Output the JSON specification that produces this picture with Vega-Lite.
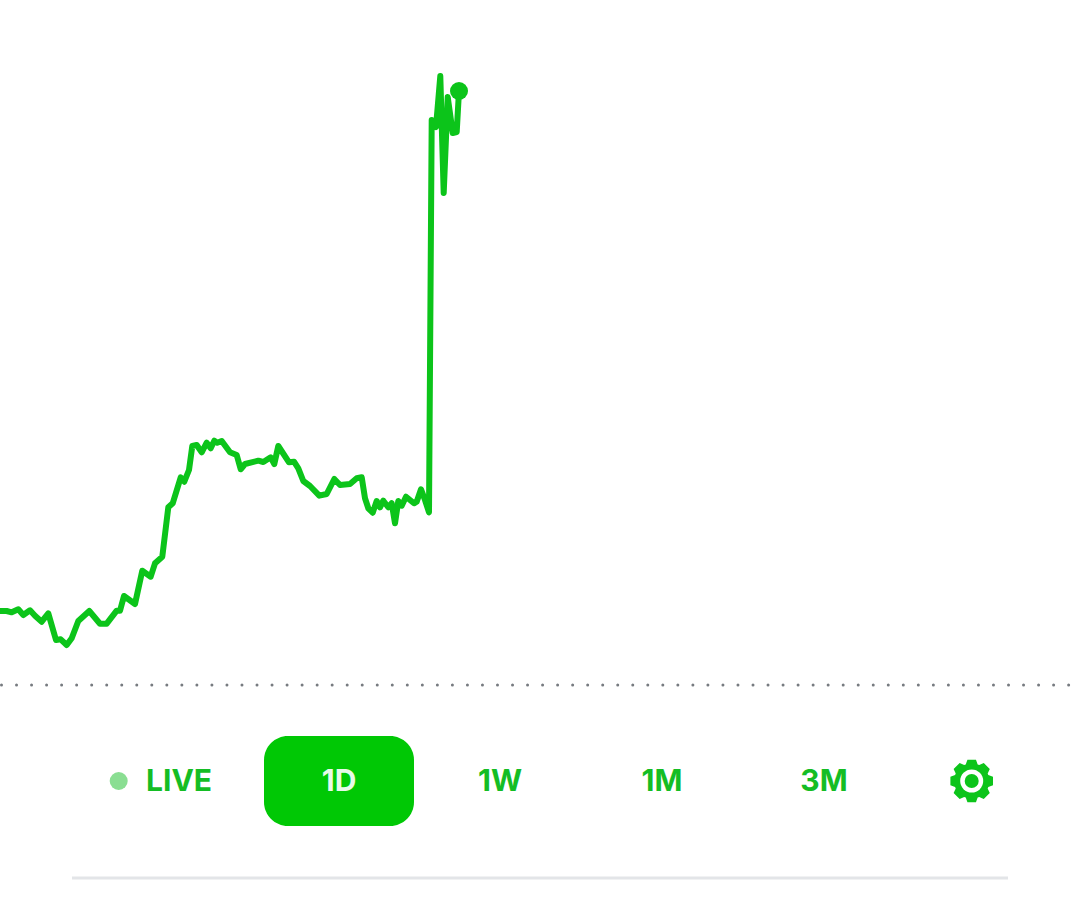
{
  "$schema": "https://vega.github.io/schema/vega-lite/v6.json",
  "width": 1080,
  "height": 897,
  "autosize": {"type": "fit", "contains": "padding"},
  "padding": 0,
  "background": "white",
  "config": {"view": {"stroke": null}},
  "datasets": {
    "price": [
      {"x":0,"y":611},{"x":6.7,"y":611},{"x":11.7,"y":612.3},{"x":18.3,"y":609.3},{"x":23.3,"y":615},{"x":30,"y":610.3},{"x":35,"y":615.7},{"x":41.7,"y":621.7},{"x":48.3,"y":613.3},{"x":56,"y":640},{"x":60.7,"y":639.3},{"x":66.7,"y":645},{"x":71.7,"y":638.3},{"x":78.3,"y":621},{"x":89.3,"y":611},{"x":100,"y":623.7},{"x":106.7,"y":623.7},{"x":116.7,"y":610.7},{"x":120,"y":610.7},{"x":124,"y":596},{"x":135,"y":604},{"x":142.3,"y":570.7},{"x":150.7,"y":576.7},{"x":155,"y":563.3},{"x":162.3,"y":556.7},{"x":168.3,"y":507.3},{"x":172.7,"y":503.3},{"x":180.7,"y":477.3},{"x":184.3,"y":481.7},{"x":189,"y":470},{"x":192.3,"y":446},{"x":196.7,"y":445},{"x":201.7,"y":452.3},{"x":206.7,"y":442.7},{"x":210.7,"y":448.3},{"x":214.3,"y":440.7},{"x":217.3,"y":442.7},{"x":221.7,"y":441},{"x":230,"y":452.3},{"x":236.7,"y":455},{"x":240.7,"y":469.3},{"x":245,"y":464},{"x":258.3,"y":460.7},{"x":263.3,"y":462},{"x":270.7,"y":457.3},{"x":274.3,"y":464},{"x":278.3,"y":446},{"x":289,"y":462.3},{"x":294,"y":461.7},{"x":298.3,"y":468.3},{"x":303.3,"y":481},{"x":310,"y":486},{"x":319.3,"y":495.7},{"x":326.7,"y":494},{"x":334.3,"y":479},{"x":340,"y":485},{"x":350,"y":484},{"x":356.7,"y":478.3},{"x":361.7,"y":477.3},{"x":365,"y":498.3},{"x":368.3,"y":508.3},{"x":372.7,"y":512.7},{"x":376.7,"y":501},{"x":380,"y":507.3},{"x":383.3,"y":500.7},{"x":388.3,"y":507.3},{"x":391.7,"y":503.3},{"x":395,"y":523.3},{"x":398.3,"y":501},{"x":401.7,"y":505.7},{"x":406,"y":496.7},{"x":414,"y":503.3},{"x":416.7,"y":501.7},{"x":421,"y":489.3},{"x":425,"y":500},{"x":429,"y":512.3},{"x":431.7,"y":120},{"x":436,"y":127},{"x":440.3,"y":76},{"x":443.7,"y":193},{"x":447.7,"y":97},{"x":452.7,"y":133},{"x":456.7,"y":132},{"x":459,"y":91}
    ],
    "buttons": [
      {"label":"LIVE","x":179,"y":782,"color":"#14bd24"},
      {"label":"1D","x":339,"y":782,"color":"#e8faea"},
      {"label":"1W","x":500,"y":782,"color":"#14bd24"},
      {"label":"1M","x":662,"y":782,"color":"#14bd24"},
      {"label":"3M","x":824,"y":782,"color":"#14bd24"}
    ]
  },
  "encoding": {
    "x": {"field": "x", "type": "quantitative", "scale": {"domain": [0, 1080]}, "axis": null},
    "y": {"field": "y", "type": "quantitative", "scale": {"domain": [897, 0]}, "axis": null}
  },
  "layer": [
    {
      "data": {"values": [{"x": 1.5, "x2": 1072, "y": 685}]},
      "mark": {"type": "rule", "stroke": "#777b80", "strokeWidth": 3, "strokeCap": "round", "strokeDash": [0, 15.03]},
      "encoding": {"x2": {"field": "x2"}}
    },
    {
      "data": {"values": [{"x": 72, "x2": 1008, "y": 878}]},
      "mark": {"type": "rule", "stroke": "#e3e5e8", "strokeWidth": 3},
      "encoding": {"x2": {"field": "x2"}}
    },
    {
      "data": {"name": "price"},
      "mark": {"type": "line", "clip": true, "stroke": "#0cc41a", "strokeWidth": 6, "strokeJoin": "round", "strokeCap": "round", "interpolate": "linear"}
    },
    {
      "data": {"values": [{"x": 459, "y": 91}]},
      "mark": {"type": "point", "shape": "circle", "filled": true, "opacity": 1, "color": "#0cc41a", "size": 324}
    },
    {
      "data": {"values": [{"x": 118.7, "y": 781}]},
      "mark": {"type": "point", "shape": "circle", "filled": true, "opacity": 1, "color": "#8ade92", "size": 324}
    },
    {
      "data": {"values": [{"x": 264, "x2": 414, "y": 736, "y2": 826}]},
      "mark": {"type": "rect", "fill": "#00c805", "cornerRadius": 24},
      "encoding": {"x2": {"field": "x2"}, "y2": {"field": "y2"}}
    },
    {
      "data": {"name": "buttons"},
      "mark": {"type": "text", "font": "Inter", "fontWeight": 700, "fontSize": 30, "align": "center", "baseline": "middle"},
      "encoding": {
        "text": {"field": "label"},
        "color": {"field": "color", "type": "nominal", "scale": null}
      }
    },
    {
      "data": {"values": [{"x": 971.7, "y": 781}]},
      "mark": {
        "type": "point",
        "filled": true,
        "opacity": 1,
        "color": "#0cc41a",
        "size": 1815,
        "shape": "M-.28,-.78L-.2,-1L.2,-1L.28,-.78L.354,-.75L.566,-.849L.849,-.566L.75,-.354L.78,-.28L1,-.2L1,.2L.78,.28L.75,.354L.849,.566L.566,.849L.354,.75L.28,.78L.2,1L-.2,1L-.28,.78L-.354,.75L-.566,.849L-.849,.566L-.75,.354L-.78,.28L-1,.2L-1,-.2L-.78,-.28L-.75,-.354L-.849,-.566L-.566,-.849L-.354,-.75Z"
      }
    },
    {
      "data": {"values": [{"x": 971.7, "y": 781}]},
      "mark": {"type": "point", "shape": "circle", "filled": true, "opacity": 1, "color": "white", "size": 529}
    },
    {
      "data": {"values": [{"x": 971.7, "y": 781}]},
      "mark": {"type": "point", "shape": "circle", "filled": true, "opacity": 1, "color": "#0cc41a", "size": 196}
    }
  ]
}
